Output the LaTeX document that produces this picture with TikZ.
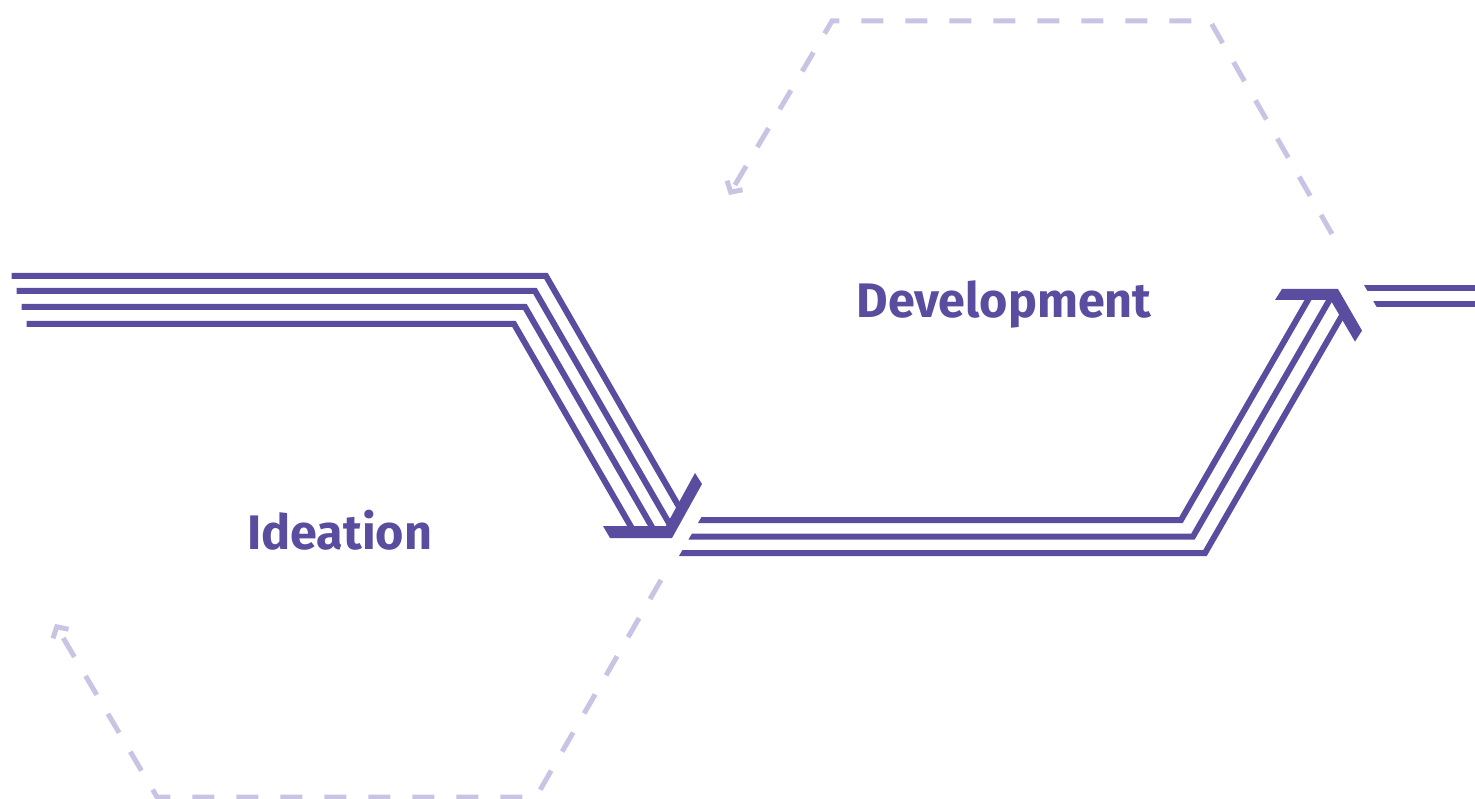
\documentclass[tikz,border=0pt]{standalone}
\usepackage{fontspec}
\setmainfont{Fira Sans}
\usepackage{xcolor}
\usepackage{tikz}
\usetikzlibrary{arrows.meta}

\definecolor{flowpurple}{HTML}{5A4C9E}
\definecolor{looplilac}{HTML}{C8C4E4}

\begin{document}
\begin{tikzpicture}[
      x=1pt, y=-1pt,
      flow/.style={draw=flowpurple, line width=6pt, miter limit=10},
      barb/.style={fill=flowpurple, draw=none},
      loop/.style={draw=looplilac, line width=5pt, dash pattern=on 22pt off 22pt,
                   -{Straight Barb[length=8pt,width=18pt,line width=5pt]}},
      phase/.style={text=flowpurple, inner sep=0pt, anchor=base,
                    font=\bfseries\fontsize{48.5}{52}\selectfont}
  ]
      \useasboundingbox (0,0) rectangle (1475,799);

      % dashed loops
      \draw[loop] (661,580) -- (536,797) -- (157,797) -- (55,624);
      \draw[loop] (1332,234) -- (1210,21) -- (832,21) -- (729,195);

      % Ideation bundle (left)
      \draw[flow] (11.7,276) -- (546,276) -- (682,512);
      \draw[flow] (16.7,291) -- (535,291) -- (669.5,524);
      \draw[flow] (21.7,307) -- (525,307) -- (653.7,530);
      \draw[flow] (26.7,324) -- (514,324) -- (632.9,530);
      \fill[barb] (603,526) -- (666,526) -- (695,473) -- (702,484)
                  -- (672,538) -- (610,538) -- cycle;

      % Development bundle (middle)
      \begin{scope}
          \clip (850,260) -- (642,620) -- (1475,620) -- (1475,260) -- cycle;
          \draw[flow] (620,520) -- (1181,520) -- (1310.3,296);
          \draw[flow] (620,536.5) -- (1193,536.5) -- (1331.8,296);
          \draw[flow] (620,553) -- (1205,553) -- (1344.2,311.8);
      \end{scope}
      \fill[barb] (1282,289) -- (1338,289) -- (1362,330.6) -- (1355,341.6)
                  -- (1330.5,300) -- (1275,300) -- cycle;

      % outgoing bundle (right)
      \begin{scope}
          \clip (1343.8,250) -- (1395.7,340) -- (1475,340) -- (1475,250) -- cycle;
          \draw[flow] (1330,288.5) -- (1475,288.5);
          \draw[flow] (1330,304.5) -- (1475,304.5);
      \end{scope}

      \node[phase] (ideation) at (339.5,549) {Ideation};
      \node[phase] (development) at (1004,318) {Development};
  \end{tikzpicture}
\end{document}
